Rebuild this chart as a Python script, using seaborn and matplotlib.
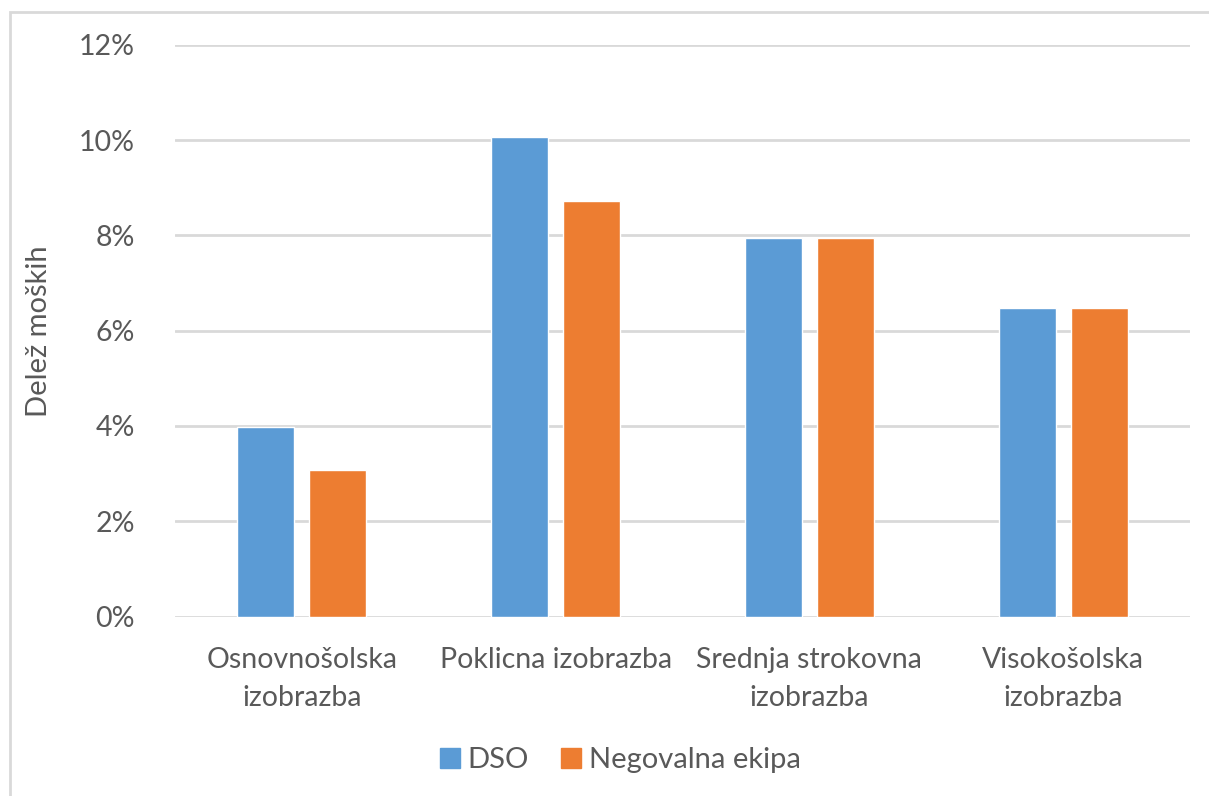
import matplotlib
matplotlib.use("Agg")
import matplotlib.pyplot as plt
import matplotlib.patches as mpatches
import seaborn as sns
import pandas as pd
from matplotlib.ticker import FuncFormatter

categories = ["Osnovnošolska\nizobrazba", "Poklicna izobrazba",
              "Srednja strokovna\nizobrazba", "Visokošolska\nizobrazba"]
series_names = ["DSO", "Negovalna ekipa"]
dso_values = [3.97, 10.07, 7.95, 6.48]
ekipa_values = [3.07, 8.72, 7.95, 6.48]

df = pd.DataFrame({
    "kategorija": categories * 2,
    "skupina": [series_names[0]] * 4 + [series_names[1]] * 4,
    "delez": dso_values + ekipa_values,
})

sns.set_theme(style="white")
plt.rcParams["font.family"] = ["Lato", "DejaVu Sans"]
text_color = "#595959"
grid_color = "#D9D9D9"
colors = ["#5B9BD5", "#ED7D31"]

fig = plt.figure(figsize=(12.09, 7.96), dpi=100)
ax = fig.add_axes([0.1447, 0.2255, 0.8396, 0.718])

sns.barplot(data=df, x="kategorija", y="delez", hue="skupina",
            hue_order=series_names, order=categories,
            palette=colors, width=0.567, gap=0.208,
            saturation=1, ax=ax, legend=False)

ax.set_ylim(0, 12)
ax.set_xlim(-0.5, 3.5)
ax.set_yticks([0, 2, 4, 6, 8, 10, 12])
ax.yaxis.set_major_formatter(FuncFormatter(lambda v, p: f"{v:.0f}%"))
ax.yaxis.grid(True, color=grid_color, linewidth=2)
ax.set_axisbelow(True)
for s in ax.spines.values():
    s.set_visible(False)
ax.tick_params(axis="y", length=0, pad=29, labelsize=20.5, labelcolor=text_color)
ax.tick_params(axis="x", length=0, pad=22, labelsize=20.5, labelcolor=text_color)
for lbl in ax.get_xticklabels():
    lbl.set_linespacing(1.55)
ax.set_xlabel("")
ax.set_ylabel("Delež moških", fontsize=21, color=text_color, labelpad=19)

handles = [mpatches.Patch(color=c) for c in colors]
fig.legend(handles, series_names, loc="center", bbox_to_anchor=(0.513, 0.045),
           ncol=2, frameon=False, fontsize=21, labelcolor=text_color,
           handlelength=0.7, handleheight=0.7, handletextpad=0.25,
           columnspacing=1.1)

# chart-area frame
fig.patches.append(mpatches.Rectangle((10 / 1209, -0.05), 1.2, 1 - 12 / 796 + 0.05,
                                      transform=fig.transFigure, fill=False,
                                      edgecolor=grid_color, linewidth=2))

fig.savefig("out.png", dpi=100, facecolor="white")
